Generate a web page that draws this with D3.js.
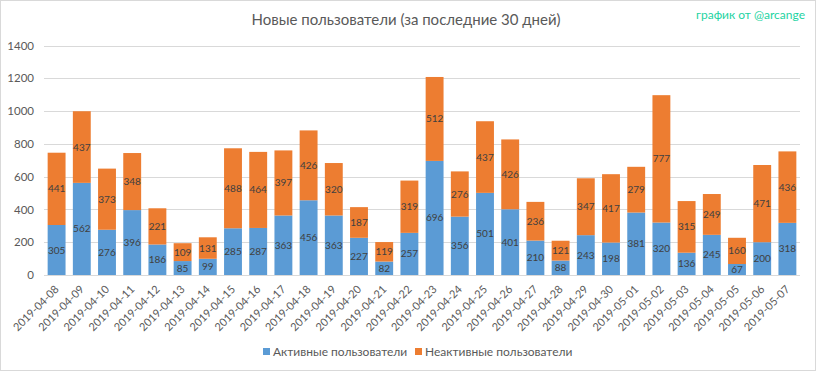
<!DOCTYPE html>
<html><head><meta charset="utf-8">
<script src="https://cdn.jsdelivr.net/npm/d3@7"></script>
<style>
body{margin:0;background:#fff;}
svg{display:block;font-family:Lato,"Open Sans",sans-serif;}
</style></head>
<body><svg id="c" width="816" height="371"></svg>
<script>
const dates = ["2019-04-08","2019-04-09","2019-04-10","2019-04-11","2019-04-12","2019-04-13","2019-04-14","2019-04-15","2019-04-16","2019-04-17","2019-04-18","2019-04-19","2019-04-20","2019-04-21","2019-04-22","2019-04-23","2019-04-24","2019-04-25","2019-04-26","2019-04-27","2019-04-28","2019-04-29","2019-04-30","2019-05-01","2019-05-02","2019-05-03","2019-05-04","2019-05-05","2019-05-06","2019-05-07"];
const active = [305,562,276,396,186,85,99,285,287,363,456,363,227,82,257,696,356,501,401,210,88,243,198,381,320,136,245,67,200,318];
const inactive = [441,437,373,348,221,109,131,488,464,397,426,320,187,119,319,512,276,437,426,236,121,347,417,279,777,315,249,160,471,436];
const yTicks = [0,200,400,600,800,1000,1200,1400];
const seriesNames = ["Активные пользователи","Неактивные пользователи"];
const colors = ["#5B9BD5","#ED7D31"];
const title = "Новые пользователи (за последние 30 дней)";
const credit = "график от @arcange";

const svg = d3.select("#c");
const W = 816, H = 371;
svg.append("rect").attr("x",0.5).attr("y",0.5).attr("width",W-1).attr("height",H-1)
  .attr("fill","#fff").attr("stroke","#d9d9d9");

const m = {left:44, right:16, top:45.5, bottom:96};
const x = d3.scaleBand().domain(dates).range([m.left, W-m.right]).paddingInner(0.29).paddingOuter(0.145);
const y = d3.scaleLinear().domain([0,1400]).range([H-m.bottom, m.top]);

// grid
svg.append("g").selectAll("line").data(yTicks).join("line")
  .attr("x1",m.left).attr("x2",W-m.right)
  .attr("y1",d=>Math.round(y(d))+0.5).attr("y2",d=>Math.round(y(d))+0.5)
  .attr("stroke","#d9d9d9").attr("stroke-width",1);

// y axis labels
const ya = svg.append("g").attr("transform",`translate(${m.left-10},0)`)
  .call(d3.axisLeft(y).tickValues(yTicks).tickFormat(d3.format("d")).tickSize(0).tickPadding(0));
ya.select(".domain").remove();
ya.selectAll("text").attr("fill","#595959").style("font-size","11.5px").style("font-family","Lato,sans-serif");

const stackData = dates.map((d,i)=>({date:d, a:active[i], b:inactive[i]}));
const stack = d3.stack().keys(["a","b"])(stackData);

const g = svg.append("g");
stack.forEach((layer,li)=>{
  g.append("g").selectAll("rect").data(layer).join("rect")
    .attr("x",d=>x(d.data.date)).attr("width",x.bandwidth())
    .attr("y",d=>y(d[1])).attr("height",d=>y(d[0])-y(d[1]))
    .attr("fill",colors[li]);
  g.append("g").selectAll("text").data(layer).join("text")
    .attr("x",d=>x(d.data.date)+x.bandwidth()/2)
    .attr("y",d=>(y(d[0])+y(d[1]))/2)
    .attr("dy","0.35em").attr("text-anchor","middle")
    .attr("fill","#404040").style("font-size","10px")
    .text(d=>d[1]-d[0]);
});

// baseline
svg.append("line").attr("x1",m.left).attr("x2",W-m.right)
  .attr("y1",Math.round(y(0))+0.5).attr("y2",Math.round(y(0))+0.5).attr("stroke","#d9d9d9");

// x axis labels
const xa = svg.append("g").attr("transform",`translate(0,${y(0)})`)
  .call(d3.axisBottom(x).tickSize(0).tickPadding(0));
xa.select(".domain").remove();
xa.selectAll("text").attr("fill","#595959").style("font-size","11px").style("font-family","Lato,sans-serif")
  .attr("text-anchor","end").attr("dy",null).attr("y",0)
  .attr("transform","translate(3,15) rotate(-45)");

// title
svg.append("text").attr("x",406).attr("y",25).attr("text-anchor","middle")
  .attr("fill","#595959").style("font-size","15px").text(title);
svg.append("text").attr("x",805).attr("y",19).attr("text-anchor","end")
  .attr("fill","#1DD3A2").style("font-size","12px").text(credit);

// legend
const lg = svg.append("g");
const lx = [263, 415];
seriesNames.forEach((n,i)=>{
  lg.append("rect").attr("x",lx[i]).attr("y",348).attr("width",7).attr("height",7).attr("fill",colors[i]);
  lg.append("text").attr("x",lx[i]+10).attr("y",356).attr("fill","#595959").style("font-size","12px").text(n);
});
</script></body></html>
